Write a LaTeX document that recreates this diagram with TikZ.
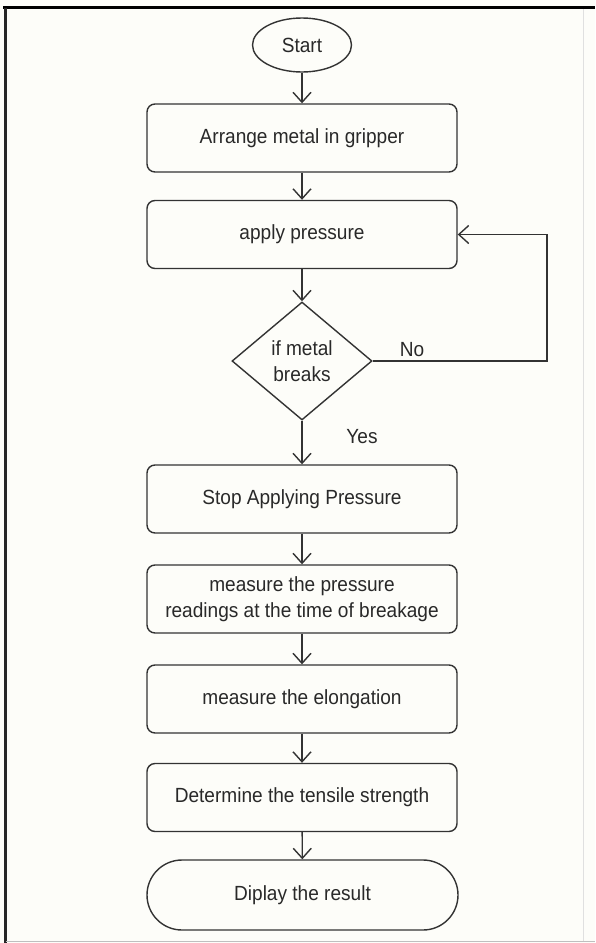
\documentclass[tikz,border=0pt]{standalone}
\usepackage{fontspec}
\setmainfont{Liberation Sans}[FakeStretch=0.93]
\usetikzlibrary{arrows.meta,shapes.geometric,shapes.misc}
\definecolor{ink}{HTML}{333333}
\definecolor{paper}{HTML}{FDFDF9}
\begin{document}
\begin{tikzpicture}[x=1pt,y=-1pt,
  font=\fontsize{20.5}{26}\selectfont,
  every node/.style={text=ink!80!black},
  proc/.style={draw=ink, line width=1.4pt, rounded corners=8pt, minimum width=310pt, minimum height=68pt, inner sep=0pt, align=center},
  term/.style={draw=ink, line width=1.4pt, rounded rectangle, minimum width=311pt, minimum height=70pt, inner sep=0pt},
  startnode/.style={draw=ink, line width=1.4pt, ellipse, minimum width=99pt, minimum height=54pt, inner sep=0pt},
  decision/.style={draw=ink, line width=1.4pt, diamond, minimum width=140pt, minimum height=118pt, inner sep=0pt, align=center},
  flow/.style={draw=ink, line width=1.4pt, -{Straight Barb[length=10pt,width=18pt,line width=1.4pt]}},
  lbl/.style={inner sep=0pt}
]
\useasboundingbox (0,0) rectangle (595,943);
\fill[paper] (0,0) rectangle (595,943);
% frame
\draw[black, line width=3pt] (3,7.5) -- (595,7.5);
\draw[black!85, line width=2.5pt] (5.5,7.5) -- (5.5,943);
\draw[black!12, line width=0.8pt] (583,9) -- (583,941);
\draw[black!25, line width=1pt] (5.5,941.5) -- (595,941.5);

\node[startnode] (start) at (302,45) {Start};
\node[proc] (arrange) at (302,138) {Arrange metal in gripper};
\node[proc] (apply) at (302,234.5) {apply pressure};
\node[decision] (dec) at (302,361) {if metal\\breaks};
\node[proc] (stop) at (302,499) {Stop Applying Pressure};
\node[proc] (readings) at (302,599) {measure the pressure\\readings at the time of breakage};
\node[proc] (elong) at (302,699) {measure the elongation};
\node[proc] (tensile) at (302,797.5) {Determine the tensile strength};
\node[term] (result) at (302.5,895) {Diplay the result};

\coordinate (loopA) at (547,361);
\coordinate (loopB) at (547,234.5);

\draw[flow] (start) -- (arrange);
\draw[flow] (arrange) -- (apply);
\draw[flow] (apply) -- (dec);
\draw[flow] (dec) -- (stop);
\draw[flow] (stop) -- (readings);
\draw[flow] (readings) -- (elong);
\draw[flow] (elong) -- (tensile);
\draw[flow] (tensile) -- (result);
\draw[flow] (dec.east) -- (loopA) -- (loopB) -- (apply.east);

\node[lbl] (no) at (412,350) {No};
\node[lbl] (yes) at (362,437) {Yes};
\end{tikzpicture}
\end{document}
